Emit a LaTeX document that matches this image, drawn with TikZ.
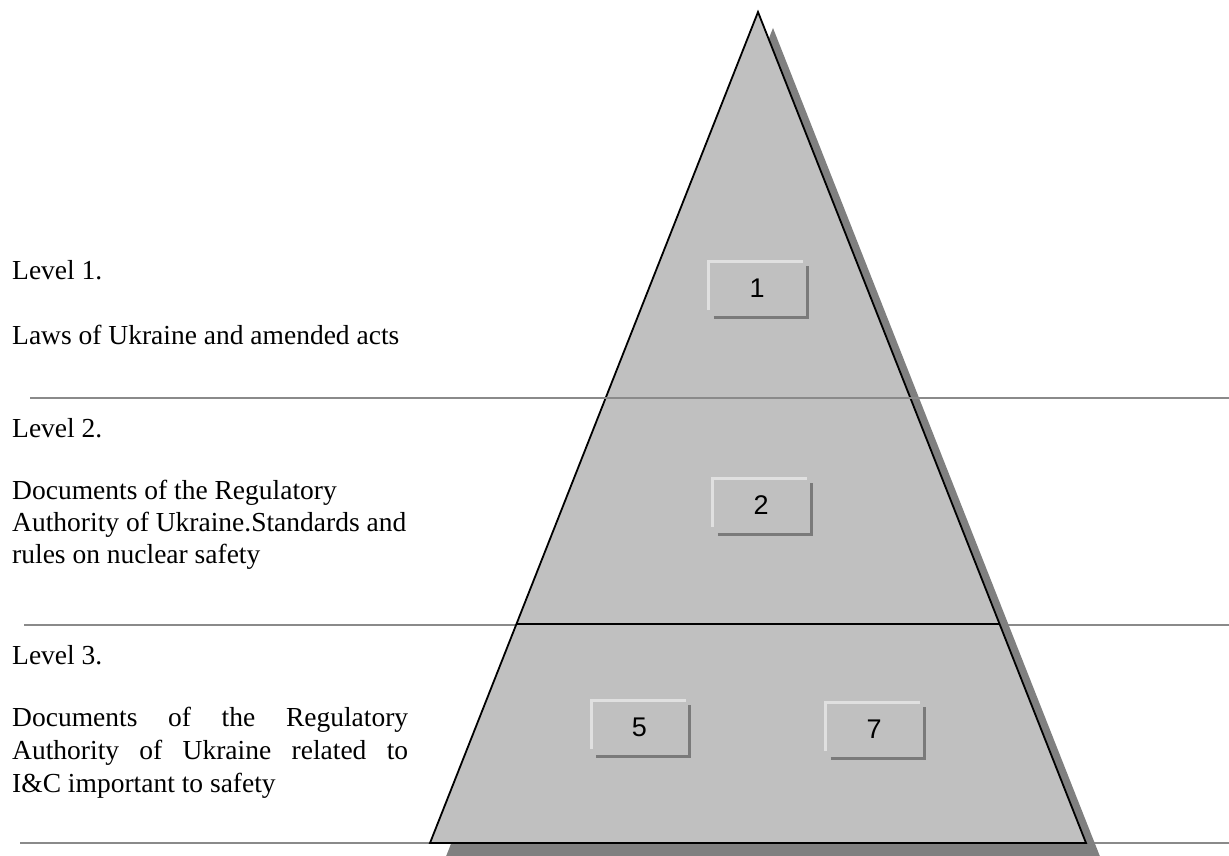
\documentclass[tikz,border=0pt]{standalone}
\usepackage{fontspec}
\setmainfont{Liberation Serif}
\newfontfamily\digitfont{Liberation Sans}
\usetikzlibrary{calc}
\definecolor{pyrfill}{HTML}{C0C0C0}
\definecolor{pyrshadow}{HTML}{808080}
\definecolor{rulegray}{HTML}{8A8A8A}
\definecolor{bevellight}{HTML}{E0E0E0}
\definecolor{beveldark}{HTML}{7A7A7A}

% numbered bevelled box: name, centre x, centre y, label
\newcommand\numbox[4]{%
  \node[numbox] (#1) at (#2,#3) {#4};
  \draw[bevellight,line width=3pt] ([yshift=5pt]#1.south west) -- (#1.north west) -- ([xshift=-2pt]#1.north east);
  \draw[beveldark,line width=3pt] ([xshift=5pt,yshift=-2pt]#1.south west) -- ([xshift=2pt,yshift=-2pt]#1.south east) -- ([xshift=2pt,yshift=-4pt]#1.north east);
}

\begin{document}
\begin{tikzpicture}[x=1pt,y=-1pt,
  rulestyle/.style={draw=rulegray,line width=2pt},
  lbl/.style={anchor=base west,inner sep=0,font=\fontsize{27.5}{33}\selectfont},
  numbox/.style={fill=pyrfill,minimum width=96pt,minimum height=53pt,inner sep=0,
    font=\digitfont\fontsize{27}{27}\selectfont},
]
\useasboundingbox (0,0) rectangle (1229,856);

% pyramid corners
\coordinate (apex) at (758,12);
\coordinate (bl) at (430,843);
\coordinate (br) at (1086,843);

% level rules below the pyramid
\draw[rulestyle] (24,624.5) -- (1229,624.5);
\draw[rulestyle] (20,843) -- (1229,843);

% drop shadow and pyramid body
\fill[pyrshadow] ([shift={(15,16)}]apex) -- ([shift={(15,16)}]bl) -- ([shift={(15,16)}]br) -- cycle;
\filldraw[fill=pyrfill,draw=black,line width=1.8pt,line join=miter] (apex) -- (bl) -- (br) -- cycle;

% division between levels 2 and 3
\coordinate (dl) at ($(apex)!0.73646!(bl)$);
\coordinate (dr) at ($(apex)!0.73646!(br)$);
\draw[black,line width=1.8pt] (dl) -- (dr);

% rule between levels 1 and 2
\draw[rulestyle] (30,397.5) -- (1229,397.5);

% numbered boxes
\numbox{b1}{757}{288.5}{1}
\numbox{b2}{761}{505.5}{2}
\numbox{b5}{639.5}{727.5}{5}
\numbox{b7}{874}{729.5}{7}

% level captions
\node[lbl] (l1) at (12,279) {Level 1.};
\node[lbl] (l1a) at (12,344) {Laws of Ukraine and amended acts};

\node[lbl] (l2) at (12,437) {Level 2.};
\node[lbl] (l2a) at (12,499) {Documents of the Regulatory};
\node[lbl] (l2b) at (12,531) {Authority of Ukraine.Standards and};
\node[lbl] (l2c) at (12,563) {rules on nuclear safety};

\node[lbl] (l3) at (12,664) {Level 3.};
\node[lbl] (l3a) at (12,726) {\makebox[396pt][s]{Documents of the Regulatory}};
\node[lbl] (l3b) at (12,759) {\makebox[396pt][s]{Authority of Ukraine related to}};
\node[lbl] (l3c) at (12,792) {I\&C important to safety};
\end{tikzpicture}
\end{document}
